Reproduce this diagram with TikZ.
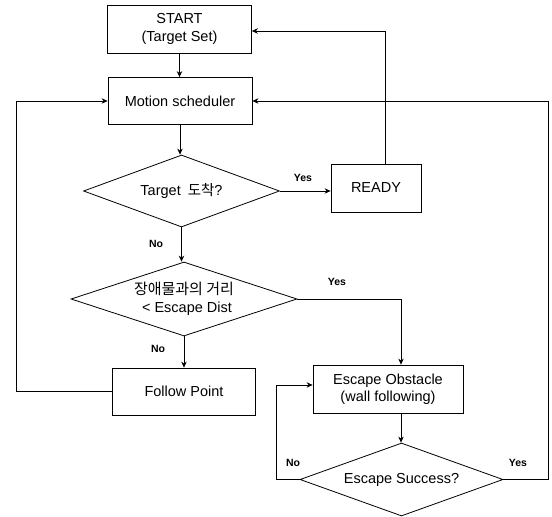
\documentclass[tikz,border=0pt]{standalone}
\usepackage{fontspec}
\setmainfont{Liberation Sans}
\newfontfamily\kr{Noto Sans CJK KR}
\usetikzlibrary{shapes.geometric,arrows.meta}
\begin{document}
\begin{tikzpicture}[x=1pt,y=-1pt,
  box/.style={draw, line width=0.8pt, rectangle, inner sep=0pt, align=center,
    font=\fontsize{14.5}{17.5}\selectfont},
  dia/.style={draw, line width=0.8pt, diamond, inner sep=0pt, align=center,
    font=\fontsize{14.5}{17.5}\selectfont},
  conn/.style={line width=0.8pt},
  arr/.style={conn, -{Stealth[length=6pt,width=5.5pt]}},
  lbl/.style={font=\bfseries\fontsize{10.5}{12}\selectfont, inner sep=0pt}]
\useasboundingbox (0,0) rectangle (552,517);

% nodes
\node[box, minimum width=144pt, minimum height=48pt] (start) at (179.5,29) {START\\(Target Set)};
\node[box, minimum width=144pt, minimum height=47pt] (motion) at (180,101) {Motion scheduler};
\node[dia, aspect=2.72, minimum width=196pt, minimum height=72pt] (d1) at (181.5,191) {Target\hspace{7pt}{\kr\fontsize{14.5}{17.5}\selectfont 도착}?};
\node[box, minimum width=90pt, minimum height=48pt] (ready) at (376,188) {READY};
\node[dia, aspect=3.05, minimum width=226pt, minimum height=74pt] (d2) at (184,299) {{\kr\fontsize{15}{17.5}\selectfont 장애물과의 거리}\\\hspace*{6pt}< Escape Dist};
\node[box, minimum width=143pt, minimum height=47pt] (follow) at (184,391.5) {Follow Point};
\node[box, minimum width=150pt, minimum height=48pt] (esc) at (388,389) {Escape Obstacle\\(wall following)};
\node[dia, aspect=2.78, minimum width=203pt, minimum height=73pt] (d3) at (401.5,479.5) {Escape Success?};

% labels
\node[lbl] (y1) at (303,178) {Yes};
\node[lbl] (n1) at (156,244) {No};
\node[lbl] (y2) at (337,282) {Yes};
\node[lbl] (n2) at (158,349) {No};
\node[lbl] (n3) at (293,463) {No};
\node[lbl] (y3) at (518,463) {Yes};

% helper coordinates
\coordinate (rt) at (385,31);
\coordinate (ex) at (401,0);
\coordinate (lx) at (16,0);
\coordinate (nx) at (276,0);
\coordinate (ny) at (0,385);
\coordinate (rx) at (548,0);

% connectors
\draw[arr] (start.south) -- (start.south |- motion.north);
\draw[arr] (motion.south) -- (motion.south |- d1.north);
\draw[arr] (d1.east) -- (d1.east -| ready.west);
\draw[arr] (ready.north -| rt) -- (rt) -- (rt -| start.east);
\draw[arr] (d1.south) -- (d1.south |- d2.north);
\draw[arr] (d2.east) -| (ex |- esc.north);
\draw[arr] (d2.south) -- (d2.south |- follow.north);
\draw[arr] (follow.west) -- (follow.west -| lx) -- (lx |- motion.west) -- (motion.west);
\draw[arr] (ex |- esc.south) -- (ex |- d3.north);
\draw[arr] (d3.west) -- (d3.west -| nx) -- (nx |- ny) -- (esc.west |- ny);
\draw[arr] (d3.east) -- (d3.east -| rx) -- (rx |- motion.east) -- (motion.east);
\end{tikzpicture}
\end{document}
